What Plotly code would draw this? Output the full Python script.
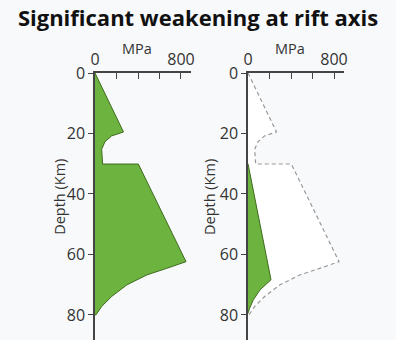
import plotly.graph_objects as go

# strength envelope (MPa) vs depth (km)
normal_mpa = [0, 265, 155, 93, 62, 65, 71, 403, 847, 667, 481, 295, 155, 62, 9, 0]
normal_depth = [0, 19.5, 20.8, 22.7, 25.2, 27.7, 30.1, 30.1, 62.4, 64.6, 66.8, 70.1, 73.9, 77.2, 80, 80]

rift_mpa = [0, 214, 112, 50, 15, 0]
rift_depth = [30, 68.4, 71.7, 75, 77.8, 79.5]

depth_ticks = [0, 20, 40, 60, 80]
mpa_ticks = [0, 200, 400, 600, 800]
mpa_text = ["0", "", "", "", "800"]

green = "#6db33f"
bg = "#f8f9fb"
font = "Open Sans"

fig = go.Figure()

# left panel: full envelope
fig.add_trace(go.Scatter(x=normal_mpa, y=normal_depth, fill="toself", fillcolor=green,
                         mode="lines", line=dict(color="#3f6b1f", width=1),
                         xaxis="x", yaxis="y", hoverinfo="skip"))

# right panel: old envelope dashed, weakened one in green
fig.add_trace(go.Scatter(x=normal_mpa[:-1], y=normal_depth[:-1], fill="toself", fillcolor="white",
                         mode="lines", line=dict(color="#999999", width=1.2, dash="4px,3px"),
                         xaxis="x2", yaxis="y2", hoverinfo="skip"))
fig.add_trace(go.Scatter(x=rift_mpa, y=rift_depth, fill="toself", fillcolor=green,
                         mode="lines", line=dict(color="#3f6b1f", width=1),
                         xaxis="x2", yaxis="y2", hoverinfo="skip"))

xax = dict(range=[0, 893], side="top", showgrid=False, zeroline=False, automargin=False,
           showline=True, linecolor="#444", linewidth=1.5,
           ticks="inside", ticklen=6, tickcolor="#444", tickwidth=1.2,
           tickvals=mpa_ticks, ticktext=mpa_text,
           tickfont=dict(family=font, size=16, color="#333"))
yax = dict(range=[88.3, 0], showgrid=False, zeroline=False, automargin=False,
           showline=True, linecolor="#444", linewidth=1.5,
           ticks="outside", ticklen=5, tickcolor="#444", tickwidth=1.2,
           tickvals=depth_ticks, tickfont=dict(family=font, size=16, color="#333"))

fig.update_layout(
    width=396, height=340,
    margin=dict(l=95, r=52, t=73, b=0),
    paper_bgcolor=bg, plot_bgcolor=bg,
    showlegend=False,
    xaxis=dict(xax, domain=[0, 0.3855], anchor="y"),
    yaxis=dict(yax, anchor="x"),
    xaxis2=dict(xax, domain=[0.6145, 1], anchor="y2"),
    yaxis2=dict(yax, anchor="x2"),
    title=dict(text="<b>Significant weakening at rift axis</b>", x=0.5, xanchor="center",
               y=0.947, yanchor="middle", font=dict(family=font, size=22, color="#111")),
)

for xr in ["x", "x2"]:
    fig.add_annotation(text="MPa", xref=xr, x=390, yref="paper", y=1.09, showarrow=False,
                       xanchor="center", yanchor="middle",
                       font=dict(family=font, size=14.5, color="#333"))
fig.add_annotation(text="Depth (Km)", xref="paper", x=-0.141, yref="y", y=41, textangle=-90,
                   xanchor="center", yanchor="middle",
                   showarrow=False, font=dict(family=font, size=14.5, color="#333"))
fig.add_annotation(text="Depth (Km)", xref="paper", x=0.462, yref="y2", y=41, textangle=-90,
                   xanchor="center", yanchor="middle",
                   showarrow=False, font=dict(family=font, size=14.5, color="#333"))

fig.write_html("out.html", config={"displayModeBar": False},
               post_script="document.body.style.margin='0';")
